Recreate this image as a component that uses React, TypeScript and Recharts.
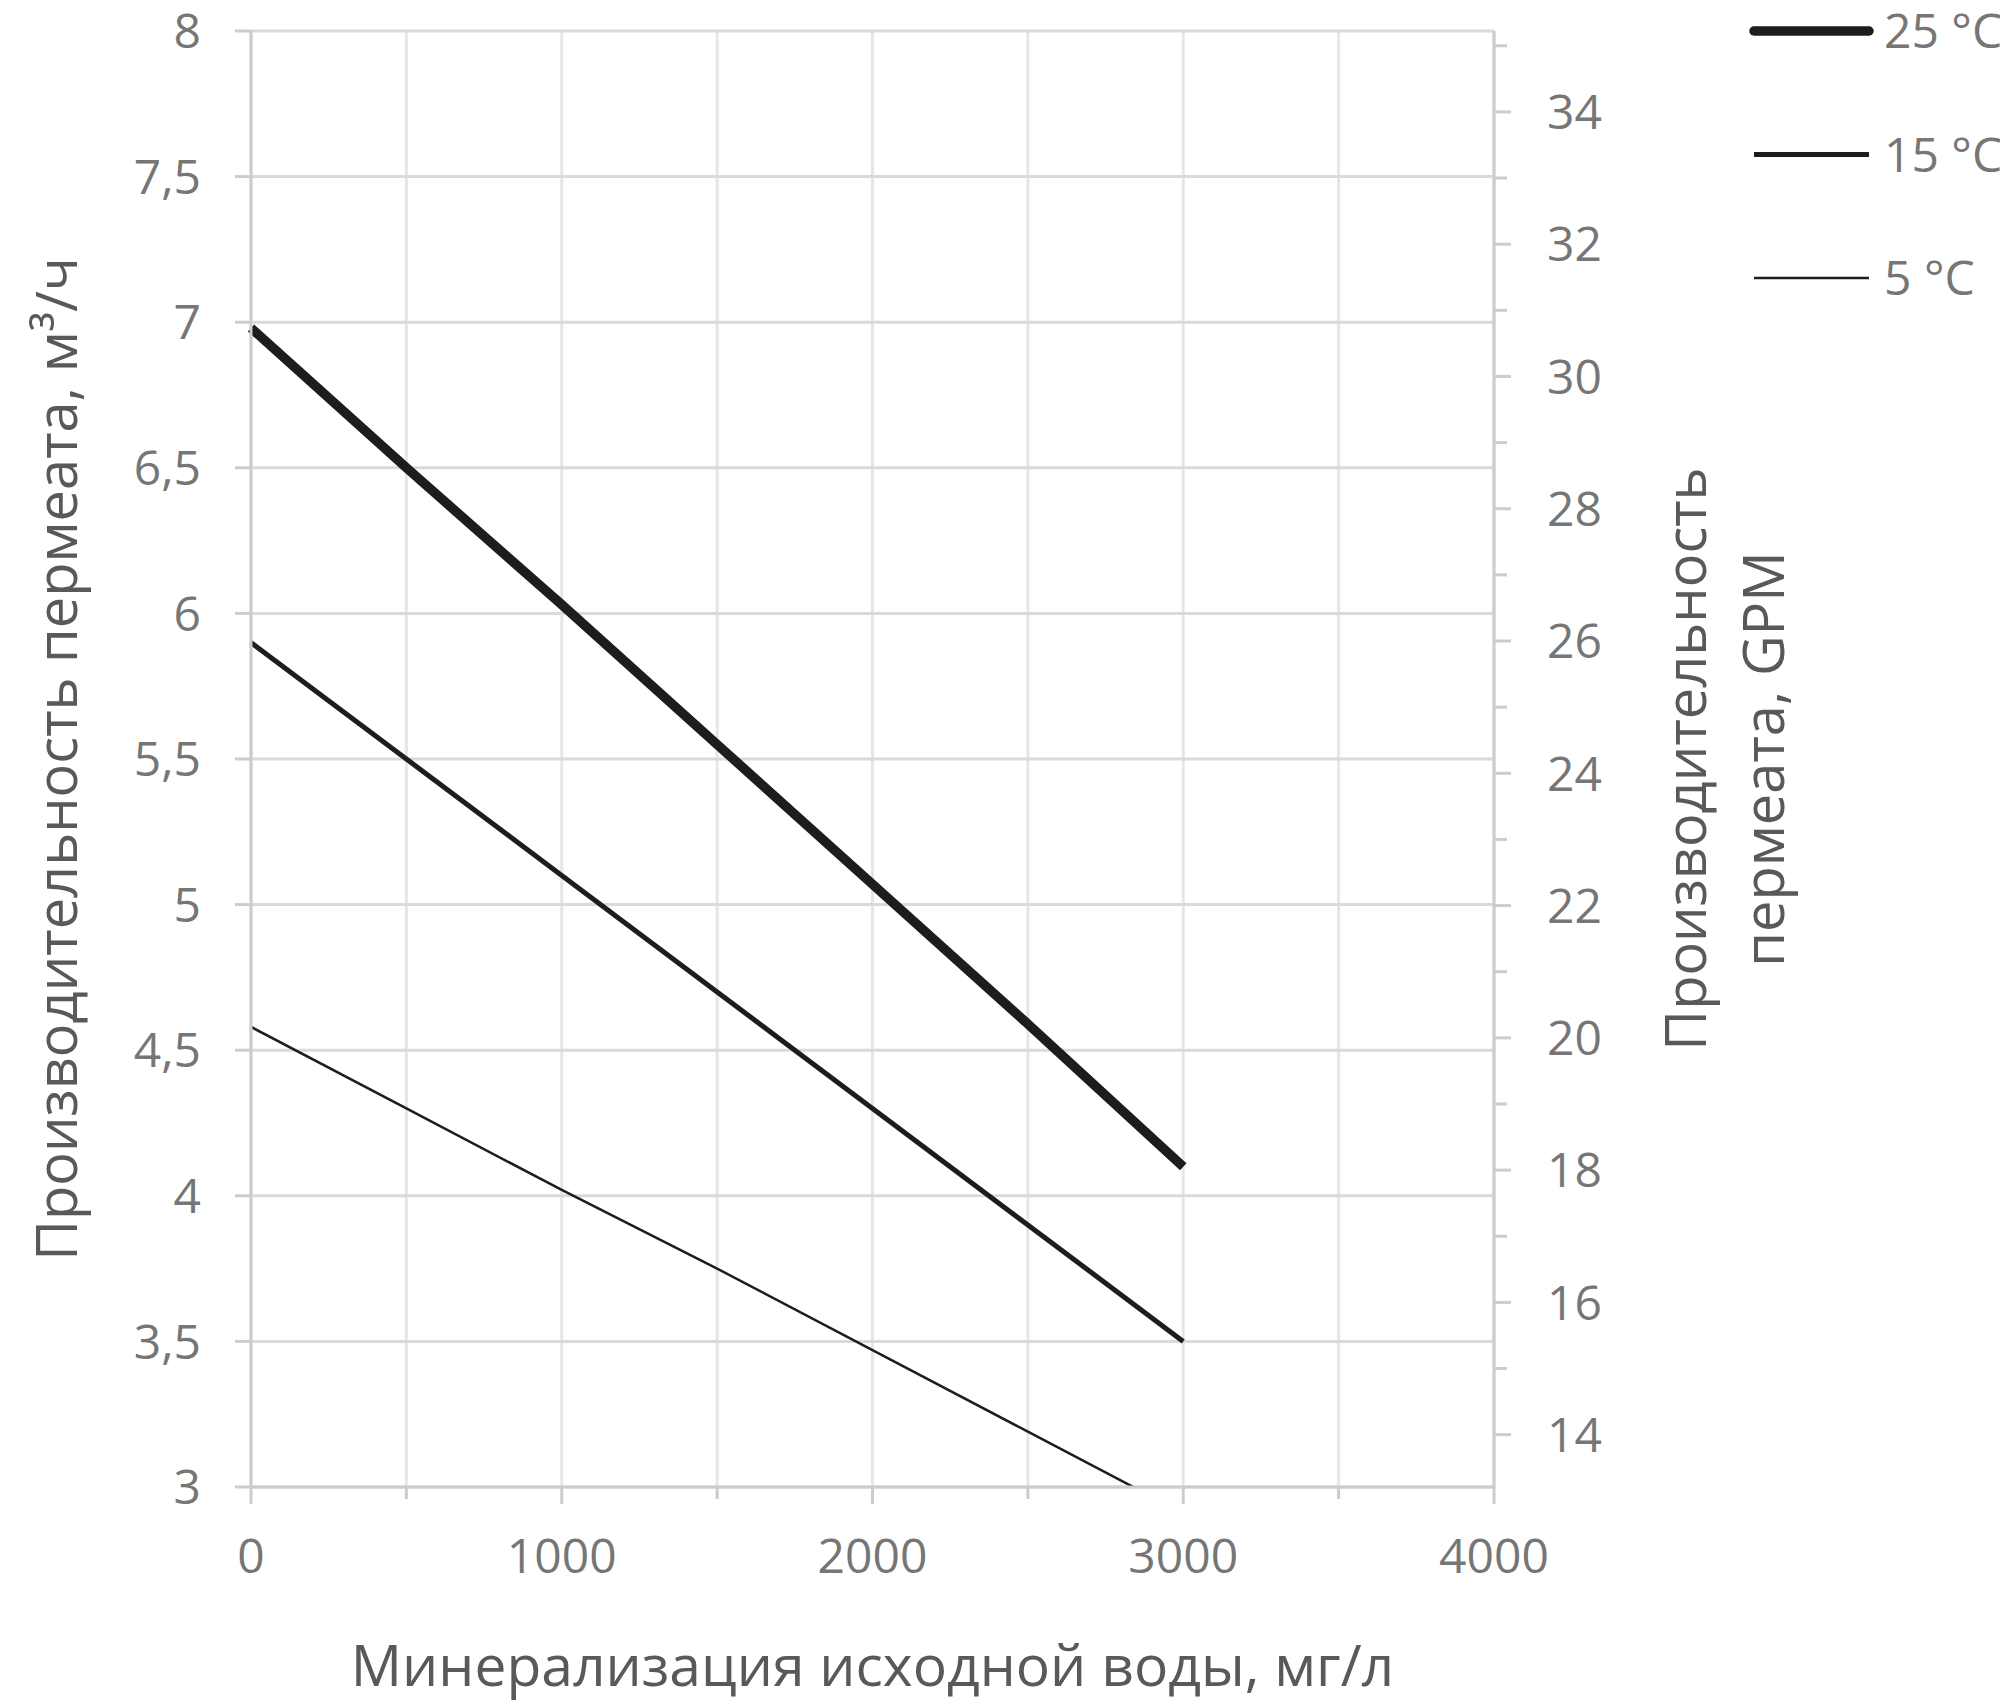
import { LineChart, Line, XAxis, YAxis, CartesianGrid, Legend } from "recharts";

// минерализация, mg/l
const tds = [0, 500, 1000, 1500, 2000, 2500, 3000];
// permeate flow, m3/h
const flow25 = [6.98, 6.5, 6.03, 5.55, 5.07, 4.59, 4.1];
const flow15 = [5.9, 5.5, 5.1, 4.7, 4.3, 3.9, 3.5];
const flow5 = [4.58, 4.3, 4.02, 3.75, 3.47, 3.19, 2.91];

const xTicks = [0, 500, 1000, 1500, 2000, 2500, 3000, 3500, 4000];
const yTicks = [3, 3.5, 4, 4.5, 5, 5.5, 6, 6.5, 7, 7.5, 8];
const gpmTicks = [14, 15, 16, 17, 18, 19, 20, 21, 22, 23, 24, 25, 26, 27, 28, 29, 30, 31, 32, 33, 34, 35];

const seriesKeys = ["t25", "t15", "t5"];
const seriesNames = ["25 °C", "15 °C", "5 °C"];
const seriesWidths = [9.5, 5, 2.5];

const GPM_PER_M3H = 4.4029;

const chartData = tds.map((x, i) => ({ x, t25: flow25[i], t15: flow15[i], t5: flow5[i] }));

const FONT = "'Open Sans', 'Noto Sans', sans-serif";
const TICK_COLOR = "#767676";
const TITLE_COLOR = "#595959";
const AXIS_COLOR = "#cccccc";
const LINE_COLOR = "#1f1c1d";

const XTick = ({ x, y, payload }: any) => {
  const major = payload.value % 1000 === 0;
  return (
    <g>
      <line x1={x} x2={x} y1={y} y2={y + (major ? 17 : 12)} stroke={AXIS_COLOR} strokeWidth={3} />
      {major && (
        <text x={x} y={y + 69} dy="0.36em" textAnchor="middle" fill={TICK_COLOR} fontSize={48} fontFamily={FONT}>
          {payload.value}
        </text>
      )}
    </g>
  );
};

const LeftTick = ({ x, y, payload }: any) => (
  <g>
    <line x1={x - 16} x2={x} y1={y} y2={y} stroke={AXIS_COLOR} strokeWidth={3} />
    <text x={x - 50} y={y} dy="0.36em" textAnchor="end" fill={TICK_COLOR} fontSize={48} fontFamily={FONT}>
      {String(payload.value).replace(".", ",")}
    </text>
  </g>
);

const RightTick = ({ x, y, payload }: any) => {
  const major = payload.value % 2 === 0;
  return (
    <g>
      <line x1={x} x2={x + (major ? 17 : 13)} y1={y} y2={y} stroke={AXIS_COLOR} strokeWidth={3} />
      {major && (
        <text x={x + 53} y={y} dy="0.36em" textAnchor="start" fill={TICK_COLOR} fontSize={48} fontFamily={FONT}>
          {payload.value}
        </text>
      )}
    </g>
  );
};

const LeftTitle = (props: any) => {
  const vb = props.viewBox ?? { x: 0, y: 31, width: 251, height: 1456 };
  const cx = vb.x + 57;
  const cy = vb.y + vb.height / 2;
  return (
    <text
      x={cx}
      y={cy}
      dy="0.36em"
      transform={`rotate(-90 ${cx} ${cy})`}
      textAnchor="middle"
      fill={TITLE_COLOR}
      fontSize={56}
      fontFamily={FONT}
    >
      Производительность пермеата, м³/ч
    </text>
  );
};

const RightTitle = (props: any) => {
  const vb = props.viewBox ?? { x: 1494, y: 31, width: 506, height: 1456 };
  const cx = vb.x + 231;
  const cy = vb.y + vb.height / 2;
  return (
    <text
      transform={`rotate(-90 ${cx} ${cy})`}
      textAnchor="middle"
      fill={TITLE_COLOR}
      fontSize={56}
      fontFamily={FONT}
    >
      <tspan x={cx} y={cy - 39} dy="0.36em">Производительность</tspan>
      <tspan x={cx} y={cy + 39} dy="0.36em">пермеата, GPM</tspan>
    </text>
  );
};

const BottomTitle = (props: any) => {
  const vb = props.viewBox ?? { x: 251, y: 1487, width: 1243, height: 220 };
  const cx = vb.x + vb.width / 2;
  return (
    <text x={cx} y={vb.y + 178} dy="0.36em" textAnchor="middle" fill={TITLE_COLOR} fontSize={57} fontFamily={FONT}>
      Минерализация исходной воды, мг/л
    </text>
  );
};

const LegendContent = () => (
  <svg width={260} height={320} style={{ overflow: "visible" }}>
    {seriesNames.map((name, i) => {
      const cy = 31 + i * 123.5;
      return (
        <g key={name}>
          <line x1={14} x2={129} y1={cy} y2={cy} stroke={LINE_COLOR} strokeWidth={seriesWidths[i]} strokeLinecap={i === 0 ? "round" : "butt"} />
          <text x={144} y={cy} dy="0.36em" fill={TICK_COLOR} fontSize={48} fontFamily={FONT}>
            {name}
          </text>
        </g>
      );
    })}
  </svg>
);

const App = () => {
  return (
    <div style={{ position: "absolute", left: 0, top: 0, background: "#fff" }}>
      <LineChart
        width={2000}
        height={1707}
        data={chartData}
        margin={{ top: 31, right: 0, left: 0, bottom: 0 }}
        style={{ fontFamily: FONT, overflow: "visible" }}
      >
        <CartesianGrid yAxisId="left" horizontal={false} vertical stroke="#e6e6e6" strokeWidth={3} />
        <CartesianGrid yAxisId="left" horizontal vertical={false} stroke="#dadada" strokeWidth={3} />
        <XAxis
          dataKey="x"
          type="number"
          domain={[0, 4000]}
          ticks={xTicks}
          interval={0}
          height={220}
          tickSize={0}
          tickMargin={0}
          tickLine={false}
          axisLine={{ stroke: AXIS_COLOR, strokeWidth: 3 }}
          tick={<XTick />}
          label={BottomTitle}
        />
        <YAxis
          yAxisId="left"
          type="number"
          domain={[3, 8]}
          ticks={yTicks}
          interval={0}
          allowDataOverflow
          width={251}
          tickSize={0}
          tickMargin={0}
          tickLine={false}
          axisLine={{ stroke: AXIS_COLOR, strokeWidth: 3 }}
          tick={<LeftTick />}
          label={LeftTitle}
        />
        <YAxis
          yAxisId="right"
          orientation="right"
          type="number"
          domain={[3 * GPM_PER_M3H, 8 * GPM_PER_M3H]}
          ticks={gpmTicks}
          interval={0}
          allowDataOverflow
          width={506}
          tickSize={0}
          tickMargin={0}
          tickLine={false}
          axisLine={{ stroke: AXIS_COLOR, strokeWidth: 3 }}
          tick={<RightTick />}
          label={RightTitle}
        />
        <Legend
          layout="horizontal"
          verticalAlign="middle"
          align="center"
          width={260}
          height={320}
          wrapperStyle={{ top: 0, left: 1740 }}
          content={LegendContent}
        />
        {seriesKeys.map((key, i) => (
          <Line
            key={key}
            yAxisId="left"
            type="linear"
            dataKey={key}
            name={seriesNames[i]}
            stroke={LINE_COLOR}
            strokeWidth={seriesWidths[i]}
            dot={false}
            activeDot={false}
            isAnimationActive={false}
          />
        ))}
      </LineChart>
    </div>
  );
};

export default App;
